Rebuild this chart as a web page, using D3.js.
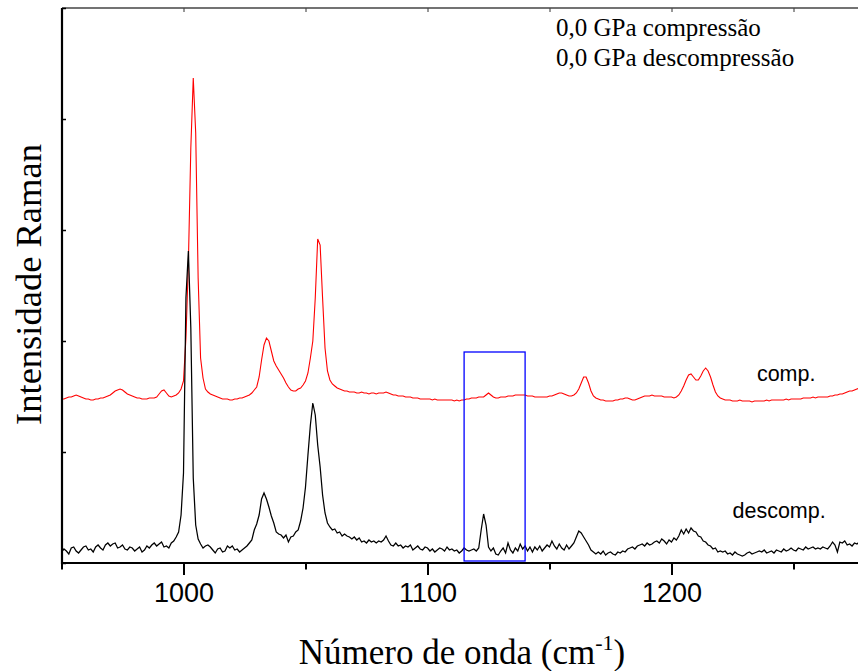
<!DOCTYPE html>
<html>
<head>
<meta charset="utf-8">
<script src="https://cdn.jsdelivr.net/npm/d3@7"></script>
<style>
  html, body { margin: 0; padding: 0; background: #fff; }
  svg { display: block; }
</style>
</head>
<body>
<svg id="chart" width="858" height="671"></svg>
<script>
// Raman spectra at 0,0 GPa: compression (red) and decompression (black)
// Wavenumber grid, 1 cm-1 steps from 950 to 1280 cm-1
const wavenumbers = d3.range(950, 1281, 1);

// Intensities (arbitrary units), one value per wavenumber
const compressao = [
  164,164,165,166,166,167,168,167,166,165,
  164,164,163,163,164,164,165,165,166,167,
  168,170,172,173,174,173,171,169,168,167,
  166,165,165,164,164,164,165,165,165,166,
  169,172,173,170,167,166,167,168,170,174,
  182,225,300,415,485,430,285,205,185,174,
  171,169,168,167,166,165,164,164,164,163,
  163,164,164,165,165,166,167,168,170,173,
  176,186,203,218,225,222,212,202,197,193,
  189,185,180,176,173,172,172,174,175,178,
  182,190,205,222,265,324,318,265,215,192,
  183,179,177,175,174,173,172,172,171,171,
  171,170,170,171,170,170,169,170,170,169,
  170,170,170,171,170,169,168,168,167,167,
  167,166,166,166,165,165,165,164,164,164,
  164,164,163,164,163,163,163,163,163,163,
  163,162,163,162,163,163,164,164,165,165,
  165,166,166,166,168,170,168,166,165,165,
  166,166,166,167,167,167,168,168,168,168,
  168,167,167,167,166,166,166,166,166,166,
  167,167,168,169,170,170,169,168,167,167,
  168,170,174,180,186,186,180,172,167,165,
  164,163,163,162,162,162,162,163,163,164,
  164,165,165,164,163,163,164,165,166,167,
  167,167,168,167,167,167,167,166,166,166,
  166,165,166,168,172,177,183,188,189,186,
  183,183,187,192,195,192,186,178,171,167,
  165,164,163,163,163,162,162,162,163,162,
  162,162,162,161,162,162,162,162,162,163,
  162,163,163,163,163,163,163,164,163,164,
  164,164,164,164,165,165,165,165,166,165,
  166,166,166,166,166,167,167,168,168,169,
  169,170,171,172,172,173,174,175,176,177,
  178
];

const descompressao = [
  11,14,12,9,15,16,12,10,13,16,
  17,13,14,11,16,18,15,13,18,20,
  17,19,20,15,16,18,14,13,16,15,
  12,14,16,11,13,17,15,18,20,17,
  19,21,16,17,15,20,22,26,31,48,
  90,265,312,235,85,38,24,19,15,17,
  18,16,13,10,14,15,11,12,17,15,
  17,13,14,11,13,15,17,20,23,33,
  39,48,64,70,64,56,47,40,31,29,
  28,25,28,21,26,27,31,33,42,55,
  76,108,138,160,148,118,96,68,50,40,
  36,33,34,30,31,27,29,27,26,24,
  26,23,25,21,22,20,23,21,22,20,
  22,21,23,27,22,18,17,20,17,18,
  15,17,16,18,13,15,17,14,13,16,
  15,12,14,11,13,15,14,12,16,13,
  14,12,13,10,12,15,13,12,13,14,
  12,15,33,49,38,16,12,15,9,8,
  12,15,10,20,13,10,15,12,19,14,
  17,12,16,11,16,13,17,12,15,18,
  16,22,17,14,19,15,13,18,14,17,
  20,26,32,30,26,22,18,13,11,9,
  11,9,12,8,10,11,9,8,11,10,
  12,11,14,15,16,14,17,18,19,17,
  20,18,19,21,22,20,24,22,19,23,
  21,25,23,27,33,29,34,30,35,32,
  31,27,26,22,21,18,17,14,15,11,
  12,11,12,9,10,8,11,9,8,7,
  8,10,11,9,10,11,12,11,13,10,
  11,12,10,13,12,11,14,12,13,15,
  13,12,15,14,13,16,14,15,16,14,
  15,14,16,15,14,17,21,18,11,21,
  20,22,18,19,17,20,19,21,18,20,
  19
];

const majorTicks = [1000, 1100, 1200];
const minorTicks = [950, 1050, 1150, 1250];
const intensityTicks = [0, 111, 222, 333, 444, 555];

const legendLabels = ["0,0 GPa compressão", "0,0 GPa descompressão"];
const curveLabels = ["comp.", "descomp."];

// Highlighted region around the 1123 cm-1 band
const boxRange = [1115, 1140];
const boxIntensity = [2, 211];

const svg = d3.select("#chart");
const W = 858, H = 671;
const plotLeft = 62, plotTop = 8, plotBottom = 563;

const x = d3.scaleLinear().domain([950, 1280]).range([61.5, 866.7]);
const y = d3.scaleLinear().domain([0, 555]).range([plotBottom, plotTop]);

svg.append("rect").attr("width", W).attr("height", H).attr("fill", "#fff");

svg.append("defs").append("clipPath").attr("id", "plotClip")
  .append("rect").attr("x", plotLeft).attr("y", plotTop)
  .attr("width", W - plotLeft).attr("height", plotBottom - plotTop);

const plot = svg.append("g").attr("clip-path", "url(#plotClip)");

const line = d3.line()
  .x((d, i) => x(wavenumbers[i]))
  .y(d => y(d));

plot.append("path")
  .datum(compressao)
  .attr("fill", "none")
  .attr("stroke", "#ff0000")
  .attr("stroke-width", 1.1)
  .attr("d", line);

plot.append("path")
  .datum(descompressao)
  .attr("fill", "none")
  .attr("stroke", "#000")
  .attr("stroke-width", 1.25)
  .attr("d", line);

plot.append("rect")
  .attr("x", x(boxRange[0]))
  .attr("y", y(boxIntensity[1]))
  .attr("width", x(boxRange[1]) - x(boxRange[0]))
  .attr("height", y(boxIntensity[0]) - y(boxIntensity[1]))
  .attr("fill", "none")
  .attr("stroke", "#0000ff")
  .attr("stroke-width", 1.3);

// Bottom axis: labelled major ticks and shorter minor ticks
const xAxisMajor = d3.axisBottom(x).tickValues(majorTicks).tickSize(12).tickSizeOuter(0).tickPadding(8)
  .tickFormat(d3.format("d"));
const gx = svg.append("g").attr("transform", `translate(0,${plotBottom})`).call(xAxisMajor);
gx.select(".domain").remove();
gx.selectAll(".tick line").attr("stroke", "#000").attr("stroke-width", 2);
gx.selectAll(".tick text")
  .attr("font-family", "Liberation Sans, Arial, sans-serif")
  .attr("font-size", 27)
  .attr("fill", "#000");

const xAxisMinor = d3.axisBottom(x).tickValues(minorTicks).tickSize(6.5).tickSizeOuter(0).tickFormat("");
const gxm = svg.append("g").attr("transform", `translate(0,${plotBottom})`).call(xAxisMinor);
gxm.select(".domain").remove();
gxm.selectAll(".tick line").attr("stroke", "#000").attr("stroke-width", 2);

svg.append("line")
  .attr("x1", plotLeft - 1).attr("x2", W).attr("y1", plotBottom).attr("y2", plotBottom)
  .attr("stroke", "#000").attr("stroke-width", 2.2);

// Top frame with inward ticks
const xAxisTop = d3.axisBottom(x).tickValues(majorTicks.concat(minorTicks)).tickSize(4).tickSizeOuter(0).tickFormat("");
const gt = svg.append("g").attr("transform", `translate(0,${plotTop})`).call(xAxisTop);
gt.select(".domain").remove();
gt.selectAll(".tick line").attr("stroke", "#333").attr("stroke-width", 1);
svg.append("line")
  .attr("x1", plotLeft).attr("x2", W).attr("y1", plotTop).attr("y2", plotTop)
  .attr("stroke", "#444").attr("stroke-width", 1.3);

// Left axis with inward ticks, no labels
const yAxis = d3.axisRight(y).tickValues(intensityTicks).tickSize(4).tickSizeOuter(0).tickFormat("");
const gy = svg.append("g").attr("transform", `translate(${plotLeft},0)`).call(yAxis);
gy.select(".domain").remove();
gy.selectAll(".tick line").attr("stroke", "#000").attr("stroke-width", 1.5);
svg.append("line")
  .attr("x1", plotLeft).attr("x2", plotLeft).attr("y1", plotTop).attr("y2", plotBottom + 1)
  .attr("stroke", "#000").attr("stroke-width", 2.2);

// Axis titles
svg.append("text")
  .attr("transform", `translate(41,${(plotTop + plotBottom) / 2 - 1}) rotate(-90)`)
  .attr("text-anchor", "middle")
  .attr("font-family", "Liberation Serif, 'Times New Roman', serif")
  .attr("font-size", 36.5)
  .attr("fill", "#000")
  .text("Intensidade Raman");

const xt = svg.append("text")
  .attr("x", 462).attr("y", 664)
  .attr("text-anchor", "middle")
  .attr("font-family", "Liberation Serif, 'Times New Roman', serif")
  .attr("font-size", 35)
  .attr("fill", "#000");
xt.append("tspan").text("Número de onda (cm");
xt.append("tspan").attr("font-size", 22).attr("dy", -14).text("-1");
xt.append("tspan").attr("dy", 14).text(")");

// Legend text
svg.selectAll("text.legend")
  .data(legendLabels)
  .join("text")
  .attr("class", "legend")
  .attr("x", 556)
  .attr("y", (d, i) => 36 + i * 30)
  .attr("font-family", "Liberation Serif, 'Times New Roman', serif")
  .attr("font-size", 25)
  .attr("fill", "#000")
  .text(d => d);

// Curve labels
const labelPos = [[1235, 182], [1225, 45]];
svg.selectAll("text.curve")
  .data(curveLabels)
  .join("text")
  .attr("class", "curve")
  .attr("x", (d, i) => x(labelPos[i][0]))
  .attr("y", (d, i) => y(labelPos[i][1]))
  .attr("font-family", "Liberation Sans, Arial, sans-serif")
  .attr("font-size", 21.5)
  .attr("fill", "#000")
  .text(d => d);
</script>
</body>
</html>
